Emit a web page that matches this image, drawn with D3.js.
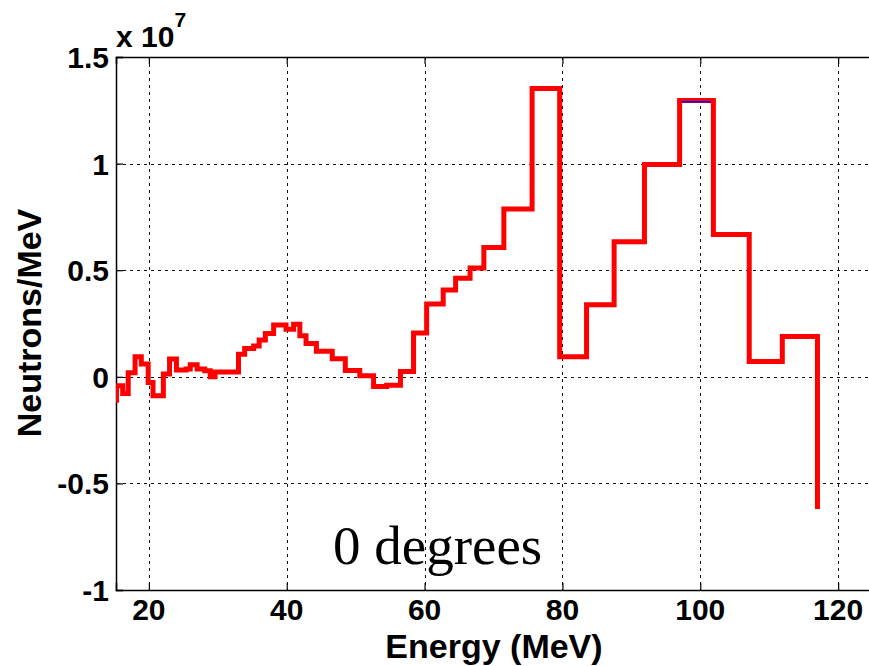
<!DOCTYPE html>
<html>
<head>
<meta charset="utf-8">
<script src="https://cdn.jsdelivr.net/npm/d3@7"></script>
<style>
  html, body { margin: 0; padding: 0; background: #fff; }
  svg { display: block; }
  .tick-label { font-family: "Liberation Sans", Arial, sans-serif; font-weight: bold; font-size: 30px; fill: #000; }
  .axis-title { font-family: "Liberation Sans", Arial, sans-serif; font-weight: bold; font-size: 34px; fill: #000; }
</style>
</head>
<body>
<svg id="chart" width="869" height="666"></svg>
<script>
// Unfolded neutron spectrum at 0 degrees: bin lower edges (MeV) and yield (x 1e7 neutrons/MeV).
// The last entry closes the staircase with a vertical drop only.
const energyEdges = [
  14.0, 15.3, 16.2, 17.0, 18.0, 18.9, 19.9, 20.6, 22.1, 23.0, 24.0, 25.4, 26.0, 27.0,
  28.1, 28.9, 29.6, 33.0, 33.9, 35.2, 36.0, 36.9, 38.1, 39.9, 41.0, 41.9, 42.8, 44.3,
  46.6, 48.5, 50.6, 52.6, 54.5, 56.5, 58.4, 60.3, 62.7, 64.5, 66.6, 68.6, 71.5, 75.6,
  79.6, 83.5, 87.5, 91.9, 97.0, 101.9, 107.1, 111.9, 117.0
];
const neutronYield = [
  -0.11, -0.042, -0.078, 0.019, 0.094, 0.06, -0.027, -0.089, 0.013, 0.083, 0.032, 0.037, 0.056, 0.037,
  0.028, 0.0, 0.022, 0.106, 0.133, 0.145, 0.173, 0.203, 0.243, 0.223, 0.247, 0.192, 0.156, 0.12,
  0.085, 0.03, 0.005, -0.046, -0.04, 0.025, 0.205, 0.342, 0.407, 0.462, 0.51, 0.607, 0.787, 1.352,
  0.094, 0.338, 0.634, 0.996, 1.296, 0.668, 0.072, 0.189, -0.62
];

// Second (blue) solution, visible only where it separates from the red one.
const altEdges = [97.3, 101.5];
const altYield = [1.29, 1.29];

const xTicks = [20, 40, 60, 80, 100, 120];
const yTicks = [-1, -0.5, 0, 0.5, 1, 1.5];
const yTickLabels = ["-1", "-0.5", "0", "0.5", "1", "1.5"];

(function draw() {
  const svg = d3.select("#chart");
  const pL = 116, pT = 57, pB = 590, pR = 872.6;

  const x = d3.scaleLinear().domain([15.23, 125]).range([pL, pR]);
  const y = d3.scaleLinear().domain([-1, 1.5]).range([pB, pT]);

  svg.append("defs").append("clipPath").attr("id", "plot-clip")
    .append("rect").attr("x", pL).attr("y", pT)
    .attr("width", pR - pL).attr("height", pB - pT);

  // Dotted grid
  const grid = svg.append("g").attr("stroke", "#111").attr("stroke-width", 1)
    .attr("stroke-dasharray", "3,4");
  grid.selectAll("line.vx").data(xTicks).join("line")
    .attr("x1", d => Math.round(x(d)) + 0.5).attr("x2", d => Math.round(x(d)) + 0.5)
    .attr("y1", pT).attr("y2", pB);
  grid.selectAll("line.hy").data(yTicks.slice(1, -1)).join("line")
    .attr("y1", d => Math.round(y(d)) + 0.5).attr("y2", d => Math.round(y(d)) + 0.5)
    .attr("x1", pL).attr("x2", pR);

  // Axes (ticks point inward, labels drawn separately)
  const xAxisBottom = d3.axisBottom(x).tickValues(xTicks).tickSize(-7).tickFormat("");
  const xAxisTop = d3.axisTop(x).tickValues(xTicks).tickSize(-7).tickFormat("");
  const yAxisLeft = d3.axisLeft(y).tickValues(yTicks).tickSize(-7).tickFormat("");

  [[xAxisBottom, `translate(0,${pB})`], [xAxisTop, `translate(0,${pT})`], [yAxisLeft, `translate(${pL},0)`]]
    .forEach(([ax, tr]) => {
      const g = svg.append("g").attr("transform", tr).call(ax);
      g.select(".domain").attr("stroke", "#000").attr("stroke-width", 1.5);
      g.selectAll(".tick line").attr("stroke", "#000").attr("stroke-width", 1.2);
    });

  // Tick labels
  svg.append("g").selectAll("text").data(xTicks).join("text")
    .attr("class", "tick-label")
    .attr("x", d => x(d)).attr("y", 620)
    .attr("text-anchor", "middle")
    .text(d => d);

  svg.append("g").selectAll("text").data(yTicks).join("text")
    .attr("class", "tick-label")
    .attr("x", 109).attr("y", d => y(d) + 11)
    .attr("text-anchor", "end")
    .text((d, i) => yTickLabels[i]);

  // Exponent label
  const expo = svg.append("text").attr("class", "tick-label").attr("x", 116).attr("y", 47);
  expo.append("tspan").text("x 10");
  expo.append("tspan").attr("dy", -20).attr("font-size", 21).text("7");

  // Axis titles
  svg.append("text").attr("class", "axis-title")
    .attr("x", 494).attr("y", 658).attr("text-anchor", "middle")
    .text("Energy (MeV)");
  svg.append("text").attr("class", "axis-title")
    .attr("transform", "translate(41,323) rotate(-90)")
    .attr("text-anchor", "middle")
    .text("Neutrons/MeV");

  // Spectrum staircase
  const stairs = d3.line()
    .x(d => x(d[0])).y(d => y(d[1]))
    .curve(d3.curveStepAfter);

  const plot = svg.append("g").attr("clip-path", "url(#plot-clip)");
  plot.append("path")
    .attr("d", stairs(d3.zip(energyEdges, neutronYield)))
    .attr("fill", "none").attr("stroke", "#ff0000")
    .attr("stroke-width", 5).attr("stroke-linejoin", "miter");

  plot.append("path")
    .attr("d", stairs(d3.zip(altEdges, altYield)))
    .attr("fill", "none").attr("stroke", "#0000ff")
    .attr("stroke-width", 1.5);

  // Annotation
  svg.append("text")
    .attr("x", 333).attr("y", 564)
    .attr("font-family", "'Liberation Serif', 'Times New Roman', serif")
    .attr("font-size", 55)
    .attr("fill", "#000")
    .text("0 degrees");
})();
</script>
</body>
</html>
